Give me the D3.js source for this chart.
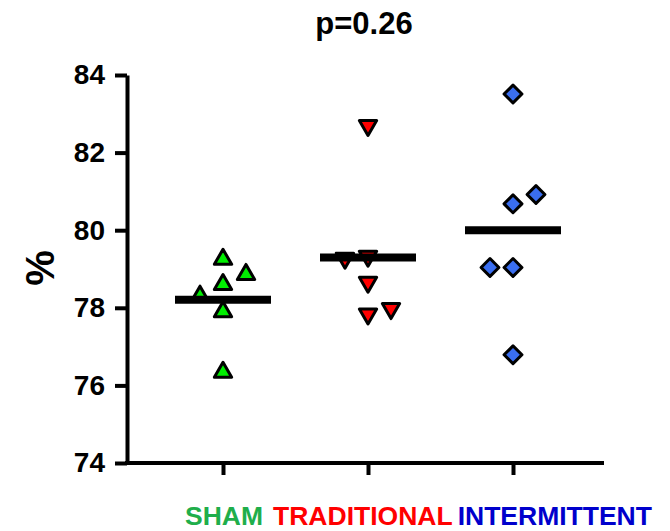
<!DOCTYPE html>
<html>
<head>
  <meta charset="utf-8">
  <title>p=0.26</title>
  <script src="https://cdn.jsdelivr.net/npm/d3@7/dist/d3.min.js"></script>
  <style>
    body { margin: 0; background: #fff; }
    svg text { font-family: Arial, "Liberation Sans", sans-serif; font-weight: bold; }
  </style>
</head>
<body>
<div id="chart"></div>
<script>
// groups along the x axis
var groups = ['SHAM', 'TRADITIONAL', 'INTERMITTENT'];
var groupColors = ['#1fae4b', '#ff0000', '#0000cc'];
var markerFills = ['#00ee00', '#ff0000', '#3a6ef0'];

// measured values (%) per group
var sham = [79.25, 78.86, 78.60, 78.30, 77.90, 76.34];
var traditional = [82.70, 79.28, 79.33, 78.66, 77.98, 77.84];
var intermittent = [83.51, 80.92, 80.68, 79.04, 79.04, 76.79];

// side-by-side slot of each point (-1 left, 0 centre, 1 right)
var shamSlot = [0, 1, 0, -1, 0, 0];
var traditionalSlot = [0, -1, 0, 0, 1, 0];
var intermittentSlot = [0, 1, 0, -1, 0, 0];

var yTicks = [74, 76, 78, 80, 82, 84];
var title = 'p=0.26';

var width = 670, height = 531;
var plotLeft = 127, plotRight = 604, plotTop = 75, plotBottom = 463;

var svg = d3.select('#chart').append('svg')
  .attr('width', width)
  .attr('height', height);

var x = d3.scalePoint().domain(groups).range([223, 513]);
var y = d3.scaleLinear().domain([74, 84]).range([plotBottom, plotTop]);

var series = [
  { name: groups[0], values: sham, slots: shamSlot, shape: 'up' },
  { name: groups[1], values: traditional, slots: traditionalSlot, shape: 'down' },
  { name: groups[2], values: intermittent, slots: intermittentSlot, shape: 'diamond' }
];

// y axis
var yAxis = svg.append('g')
  .attr('transform', 'translate(' + plotLeft + ',0)')
  .call(d3.axisLeft(y).tickValues(yTicks).tickSize(12).tickSizeOuter(0).tickPadding(10));
yAxis.select('.domain').attr('stroke-width', 4).attr('stroke', '#000');
yAxis.selectAll('.tick line').attr('stroke-width', 4).attr('stroke', '#000');
yAxis.selectAll('.tick text').attr('font-size', 28).attr('fill', '#000');

// x axis: ticks from the point scale, line drawn across the full width
var xAxis = svg.append('g')
  .attr('transform', 'translate(0,' + plotBottom + ')')
  .call(d3.axisBottom(x).tickSize(12).tickSizeOuter(0).tickFormat(''));
xAxis.select('.domain').remove();
xAxis.selectAll('.tick line').attr('stroke-width', 4).attr('stroke', '#000');
svg.append('line')
  .attr('x1', plotLeft - 2).attr('x2', plotRight)
  .attr('y1', plotBottom).attr('y2', plotBottom)
  .attr('stroke', '#000').attr('stroke-width', 4);

// points
var slotWidth = 23;
series.forEach(function(s, i) {
  var sym = s.shape === 'diamond'
    ? d3.symbol().type(d3.symbolSquare).size(160)
    : d3.symbol().type(d3.symbolTriangle).size(130);
  svg.append('g').selectAll('path')
    .data(s.values)
    .enter().append('path')
    .attr('d', sym)
    .attr('transform', function(d, j) {
      var t = 'translate(' + (x(s.name) + s.slots[j] * slotWidth) + ',' + y(d) + ')';
      if (s.shape === 'down') t += ' rotate(180)';
      if (s.shape === 'diamond') t += ' rotate(45)';
      return t;
    })
    .attr('fill', markerFills[i])
    .attr('stroke', '#000')
    .attr('stroke-width', 3)
    .attr('stroke-linejoin', 'round');
});

// mean lines
svg.append('g').selectAll('line')
  .data(series)
  .enter().append('line')
  .attr('x1', function(d) { return x(d.name) - 48; })
  .attr('x2', function(d) { return x(d.name) + 48; })
  .attr('y1', function(d) { return y(d3.mean(d.values)); })
  .attr('y2', function(d) { return y(d3.mean(d.values)); })
  .attr('stroke', '#000')
  .attr('stroke-width', 8);

// title
svg.append('text')
  .attr('x', 364).attr('y', 34)
  .attr('text-anchor', 'middle')
  .attr('font-size', 31)
  .text(title);

// y label
svg.append('text')
  .attr('transform', 'translate(54,268) rotate(-90)')
  .attr('text-anchor', 'middle')
  .attr('font-size', 40)
  .text('%');

// group names along the bottom, set one after another
var labelX = 185;
var gaps = [10, 5];
groups.forEach(function(g, i) {
  var t = svg.append('text')
    .attr('x', labelX).attr('y', 525)
    .attr('font-size', 26.5)
    .attr('fill', groupColors[i])
    .text(g);
  labelX += t.node().getComputedTextLength() + (gaps[i] || 0);
});
</script>
</body>
</html>
